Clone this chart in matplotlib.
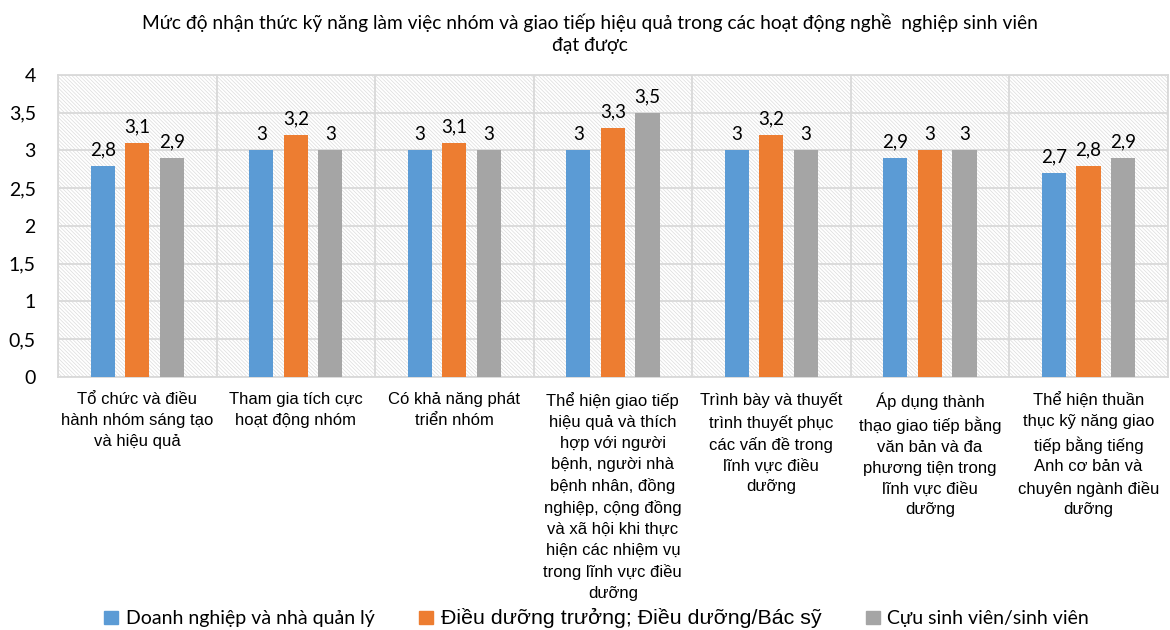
import matplotlib
matplotlib.use('Agg')
import numpy as np
import matplotlib.pyplot as plt
from matplotlib.patches import Rectangle, Patch

# --- data ---
categories = [
    "Tổ chức và điều\nhành nhóm sáng tạo\nvà hiệu quả",
    "Tham gia tích cực\nhoạt động nhóm",
    "Có khả năng phát\ntriển nhóm",
    "Thể hiện giao tiếp\nhiệu quả và thích\nhợp với người\nbệnh, người nhà\nbệnh nhân, đồng\nnghiệp, cộng đồng\nvà xã hội khi thực\nhiện các nhiệm vụ\ntrong lĩnh vực điều\ndưỡng",
    "Trình bày và thuyết\ntrình thuyết phục\ncác vấn đề trong\nlĩnh vực điều\ndưỡng",
    "Áp dụng thành\nthạo giao tiếp bằng\nvăn bản và đa\nphương tiện trong\nlĩnh vực điều\ndưỡng",
    "Thể hiện thuần\nthục kỹ năng giao\ntiếp bằng tiếng\nAnh cơ bản và\nchuyên ngành điều\ndưỡng",
]
series_names = ["Doanh nghiệp và nhà quản lý",
                "Điều dưỡng trưởng; Điều dưỡng/Bác sỹ",
                "Cựu sinh viên/sinh viên"]
doanh_nghiep = [2.8, 3, 3, 3, 3, 2.9, 2.7]
dieu_duong = [3.1, 3.2, 3.1, 3.3, 3.2, 3, 2.8]
sinh_vien = [2.9, 3, 3, 3.5, 3, 3, 2.9]
y_ticks = [0, 0.5, 1, 1.5, 2, 2.5, 3, 3.5, 4]

title = ("Mức độ nhận thức kỹ năng làm việc nhóm và giao tiếp hiệu quả trong các hoạt động nghề  nghiệp sinh viên\n"
         "đạt được")

colors = ['#5B9BD5', '#ED7D31', '#A5A5A5']
CAL = ['Lato', 'DejaVu Sans']
ARI = ['Liberation Sans', 'DejaVu Sans']

plt.rcParams['hatch.linewidth'] = 0.5


def fmt(v):
    return ('%g' % v).replace('.', ',')


fig = plt.figure(figsize=(11.7, 6.3), dpi=100)
ax = fig.add_axes([0.0496, 0.4016, 0.9484, 0.4794])

# hatched plot background
bg = Rectangle((0, 0), 1, 1, transform=ax.transAxes, facecolor='white',
               edgecolor='#dcdcdc', hatch='\\' * 9, linewidth=0, zorder=0)
ax.add_patch(bg)

x = np.arange(len(categories))
width = 0.153
step = 0.218
for i, (vals, c) in enumerate(zip([doanh_nghiep, dieu_duong, sinh_vien], colors)):
    pos = x + (i - 1) * step
    ax.bar(pos, vals, width, color=c, zorder=3)
    for p, v in zip(pos, vals):
        ax.text(p, v + 0.1, fmt(v), ha='center', va='bottom',
                fontsize=13.5, family=CAL, color='#000000', zorder=4)

ax.set_xlim(-0.5, len(categories) - 0.5)
ax.set_ylim(0, 4)
ax.set_yticks(y_ticks)
ax.set_yticklabels([fmt(v) for v in y_ticks], fontsize=14, family=CAL)
ax.set_xticks(x)
ax.set_xticklabels(categories, fontsize=12, family=ARI, va='top',
                   linespacing=1.48)
ax.set_xticks(np.arange(len(categories) + 1) - 0.5, minor=True)
ax.tick_params(axis='both', which='both', length=0)
ax.tick_params(axis='x', pad=11)
ax.tick_params(axis='y', pad=16)

ax.grid(axis='y', color='#d9d9d9', linewidth=1.3, zorder=1)
ax.grid(axis='x', which='minor', color='#d9d9d9', linewidth=1.3, zorder=1)
ax.grid(axis='x', which='major', visible=False)
for s in ax.spines.values():
    s.set_color('#d9d9d9')
    s.set_linewidth(1.3)

fig.text(0.504, 0.978, title, ha='center', va='top', fontsize=13.8,
         family=CAL, linespacing=1.35)

handles = [Patch(color=c) for c in colors]
leg = fig.legend(handles, series_names, loc='lower center', ncol=3,
                 bbox_to_anchor=(0.51, -0.025), frameon=False,
                 handlelength=0.7, handleheight=0.7, handletextpad=0.4,
                 columnspacing=2.3, prop={'family': CAL, 'size': 14})
leg.get_texts()[1].set_fontfamily(ARI)
leg.get_texts()[1].set_fontsize(15.4)

fig.savefig('out.png', dpi=100)
